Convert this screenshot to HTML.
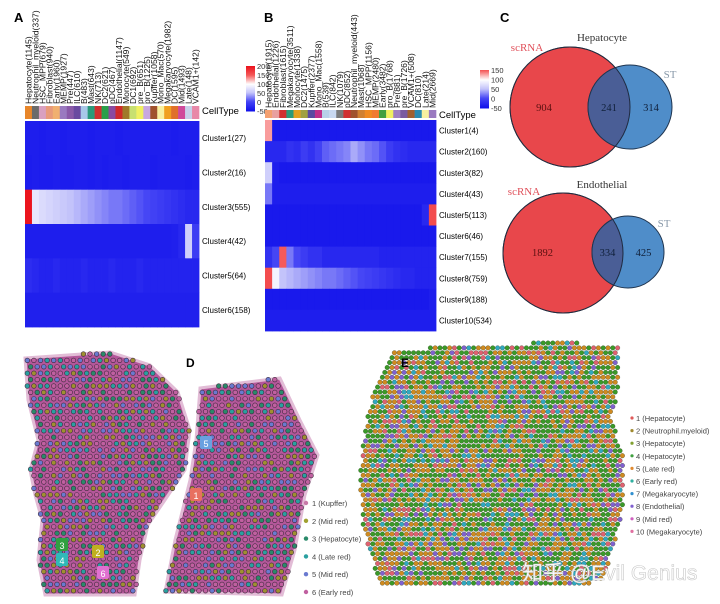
<!DOCTYPE html>
<html><head><meta charset="utf-8"><style>
body{margin:0;background:#fff;width:720px;height:599px;overflow:hidden;font-family:"Liberation Sans",Arial,sans-serif}
svg text{font-family:"Liberation Sans",Arial,sans-serif}
</style></head><body>
<svg id="fig" width="720" height="599" viewBox="0 0 720 599" xmlns="http://www.w3.org/2000/svg">
<rect width="720" height="599" fill="#fff"/>
<g id="pA"></g>
<g id="pB"></g>
<g id="pC"></g>
<g id="pD"></g>
<g id="pE"></g>
</svg>
<script>
const NS="http://www.w3.org/2000/svg";
// ---- data ----
const aCols=["Hepatocyte(1145)","Neutrophil_myeloid(337)","HSC_MPP(679)","Fibroblast(940)","Early(1960)","MEMP(1927)","Pre(447)","ILC(610)","B(483)","Mast(643)","NK(713)","DC2(621)","pDC(467)","Endothelial(1147)","Monocyte(549)","DC1(692)","pre_B(651)","pro_B(1225)","Kupffer(1058)","Mono_Mac(570)","Megakaryocyte(1982)","DC(1595)","Mid(1493)","Late(148)","VCAM1+(142)"];
const aRows=["Cluster1(27)","Cluster2(16)","Cluster3(555)","Cluster4(42)","Cluster5(64)","Cluster6(158)"];
const aVals=[
[-40,-40,-42,-40,-40,-42,-40,-40,-40,-42,-40,-40,-40,-42,-40,-40,-40,-40,-40,-40,-40,-42,-40,-40,-40],
[-42,-40,-42,-42,-40,-42,-42,-40,-40,-42,-40,-42,-40,-40,-42,-40,-40,-40,-42,-40,-40,-40,-40,-42,-40],
[200,80,70,65,60,55,50,45,40,35,30,25,20,20,15,10,5,0,-5,-10,-15,-20,-25,-30,-30],
[-40,-40,-40,-40,-40,-40,-40,-40,-40,-40,-40,-40,-40,-40,-40,-40,-40,-40,-40,-40,-40,-38,-30,60,-10],
[-25,-30,-35,-35,-30,-35,-35,-35,-30,-35,-35,-35,-30,-35,-35,-35,-30,-35,-35,-35,-35,-35,-35,-35,-35],
[-38,-38,-38,-38,-38,-38,-38,-38,-38,-38,-38,-38,-38,-38,-38,-38,-38,-38,-38,-38,-38,-38,-38,-38,-38]];
const aColors=["#e8862a","#6b6b6b","#d9a0c0","#e89a7a","#f0b070","#9a7ac0","#8a5aa8","#6a4aa0","#a8c8e8","#2a9a7a","#d03030","#2aa04a","#8a4aa0","#d02a2a","#a07a2a","#c8e070","#f0f060","#c8a8e0","#a0522d","#f8f0a0","#f0a020","#e0702a","#d04a9a","#c8d0e8","#e888a8"];
const bCols=["Hepatocyte(1915)","Endothelial(1226)","Fibroblast(1615)","Megakaryocyte(3511)","Monocyte(1338)","DC2(1475)","Kupffer(2377)","Mono_Mac(1558)","B(539)","ILC(842)","NK(1079)","pDC(852)","Neutrophil_myeloid(443)","Mast(1068)","HSC_MPP(1156)","MEMP(2480)","Early(3482)","pro_B(1768)","Pre(881)","pre_B(1726)","VCAM1+(508)","DC(810)","Late(214)","Mid(2669)"];
const bRows=["Cluster1(4)","Cluster2(160)","Cluster3(82)","Cluster4(43)","Cluster5(113)","Cluster6(46)","Cluster7(155)","Cluster8(759)","Cluster9(188)","Cluster10(534)"];
const bVals=[
[130,-45,-45,-45,-45,-45,-45,-45,-45,-45,-45,-45,-45,-45,-45,-45,-45,-45,-45,-45,-45,-45,-45,-45],
[-30,-30,-30,-20,-25,-10,-20,-5,10,15,20,25,40,30,20,15,5,-10,-20,-25,-30,-30,-30,-30],
[60,-40,-45,-45,-45,-45,-45,-45,-45,-45,-45,-45,-45,-45,-45,-45,-45,-45,-45,-45,-45,-45,-45,-45],
[20,-40,-40,-40,-40,-40,-40,-40,-40,-40,-40,-40,-40,-40,-40,-40,-40,-40,-40,-40,-40,-40,-40,-40],
[-45,-45,-45,-45,-45,-45,-45,-45,-45,-45,-45,-45,-45,-45,-45,-45,-45,-45,-45,-45,-45,-45,-30,160],
[-45,-45,-45,-45,-45,-45,-45,-45,-45,-45,-45,-45,-45,-45,-45,-45,-45,-45,-45,-45,-45,-45,-45,-45],
[-20,0,150,20,0,-10,-20,-20,-30,-30,-30,-30,-30,-30,-30,-30,-35,-35,-35,-35,-35,-35,-35,-35],
[160,90,50,45,40,35,30,25,20,20,15,10,5,0,-5,-10,-15,-20,-25,-30,-30,-35,-35,-35],
[-45,-45,-45,-45,-45,-45,-45,-45,-45,-45,-45,-45,-45,-45,-45,-45,-45,-45,-45,-45,-45,-45,-45,-40],
[-40,-40,-40,-40,-40,-40,-40,-40,-40,-40,-40,-40,-40,-40,-40,-40,-40,-40,-40,-40,-40,-40,-40,-40]];
const bColors=["#f4a070","#e8a0a0","#d03030","#2a9a7a","#e0a020","#a0a040","#5a4aa0","#c0308a","#b8d0e8","#c8d8f0","#7a7a7a","#d03030","#a0522d","#d08030","#f08a20","#f07a30","#40a040","#f0f060","#a080c0","#7a5aa0","#a06030","#2a8ab0","#f8f0a0","#9a7ac0"];
const hepVenn=[904,241,314];
const endVenn=[1892,334,425];
const dLegend=["1 (Kupffer)","2 (Mid red)","3 (Hepatocyte)","4 (Late red)","5 (Mid red)","6 (Early red)"];
const dLegColors=["#c87aa8","#a0a030","#2a8a6a","#2aa0a0","#6a7ad0","#c060a0"];
const eLegend=["1 (Hepatocyte)","2 (Neutrophil.myeloid)","3 (Hepatocyte)","4 (Hepatocyte)","5 (Late red)","6 (Early red)","7 (Megakaryocyte)","8 (Endothelial)","9 (Mid red)","10 (Megakaryocyte)"];
const eLegColors=["#e05a5a","#a08a30","#80a030","#40a040","#e08a30","#30b0a0","#3090d0","#8060d0","#d060c0","#e070a0"];

function el(tag,attrs,parent,txt){const e=document.createElementNS(NS,tag);for(const k in attrs)e.setAttribute(k,attrs[k]);if(txt!==undefined)e.textContent=txt;parent.appendChild(e);return e;}
function lerp(a,b,t){return Math.round(a+(b-a)*t);}
function heatColor(v){
  const stops=[[-50,[20,20,235]],[0,[70,70,245]],[50,[195,195,250]],[100,[255,255,255]],[150,[245,90,90]],[200,[235,20,30]]];
  v=Math.max(-50,Math.min(200,v));
  for(let i=0;i<stops.length-1;i++){const [v0,c0]=stops[i],[v1,c1]=stops[i+1];if(v<=v1){const t=(v-v0)/(v1-v0);return `rgb(${lerp(c0[0],c1[0],t)},${lerp(c0[1],c1[1],t)},${lerp(c0[2],c1[2],t)})`;}}
}
function heatmap(g,cfg){
  const {cols,rows,vals,colors,x0,x1,y0,y1,bandY,label,lx,legX,legY,lh,legTicks,legMax}=cfg;
  const cw=(x1-x0)/cols.length,rh=(y1-y0)/rows.length;
  const t=el('text',{x:lx,y:22,'font-size':13,'font-weight':'bold'},g,label);
  
  
  cols.forEach((c,i)=>{
    const cx=x0+cw*(i+0.5);
    const tx=el('text',{x:cx+3,y:bandY-2,'font-size':8.6,transform:`rotate(-90 ${cx+3} ${bandY-2})`,fill:'#111'},g,c);
    
    
    const b=el('rect',{x:x0+cw*i,y:bandY,width:cw+0.3,height:y0-bandY-2,fill:colors[i%colors.length]},g);
    
    
  });
  el('text',{x:x1+3,y:bandY+8,'font-size':9.5},g,'CellType');
  rows.forEach((r,j)=>{
    vals[j].forEach((v,i)=>{
      const c=el('rect',{x:x0+cw*i,y:y0+rh*j,width:cw+0.4,height:rh+0.4,fill:heatColor(v)},g);
      
      
    });
    const rl=el('text',{x:x1+3,y:y0+rh*(j+0.5)+3,'font-size':8},g,r);
    
    
  });
  for(let k=0;k<40;k++){const v=legMax-(legMax+50)*k/39;el('rect',{x:legX,y:legY+lh*k/40,width:9,height:lh/40+0.5,fill:heatColor(v)},g);}
  legTicks.forEach(v=>{const yy=legY+lh*(legMax-v)/(legMax+50);const tt=el('text',{x:legX+11,y:yy+3,'font-size':7.5,fill:'#333'},g,v);});
}
heatmap(document.getElementById('pA'),{cols:aCols,rows:aRows,vals:aVals,colors:aColors,x0:25,x1:199,y0:121,y1:327,bandY:106,label:'A',lx:14,legX:246,legY:66,lh:45,legTicks:[200,150,100,50,0,-50],legMax:200});
heatmap(document.getElementById('pB'),{cols:bCols,rows:bRows,vals:bVals,colors:bColors,x0:265,x1:436,y0:120,y1:331,bandY:110,label:'B',lx:264,legX:480,legY:70,lh:38,legTicks:[150,100,50,0,-50],legMax:150});

// Venn
const pC=document.getElementById('pC');
el('text',{x:500,y:22,'font-size':13,'font-weight':'bold'},pC,'C');
function venn(cfg,vals){
  const g=el('g',{},pC);
  
  
  const id='clip'+cfg.name;
  const d=el('defs',{},g);const cp=el('clipPath',{id},d);el('circle',{cx:cfg.rx,cy:cfg.ry,r:cfg.rr},cp);
  const c1=el('circle',{cx:cfg.rx,cy:cfg.ry,r:cfg.rr,fill:'#e8474b',stroke:'#333','stroke-width':1},g);
  
  const c2=el('circle',{cx:cfg.bx,cy:cfg.by,r:cfg.br,fill:'#4f8dc9',stroke:'#1f3550','stroke-width':1},g);
  
  el('circle',{cx:cfg.bx,cy:cfg.by,r:cfg.br,fill:'#4a5e96','clip-path':`url(#${id})`,stroke:'#1f3550','stroke-width':1},g);
  el('circle',{cx:cfg.rx,cy:cfg.ry,r:cfg.rr,fill:'none',stroke:'#1f2a40','stroke-width':1},g);
  const f='font-family:"Liberation Serif",serif';
  el('text',{x:cfg.tx,y:cfg.ty,'font-size':11,'text-anchor':'middle',style:f,fill:'#333'},g,cfg.title);
  el('text',{x:cfg.sx,y:cfg.sy,'font-size':11,'text-anchor':'middle',style:f,fill:'#e0505a'},g,'scRNA');
  el('text',{x:cfg.stx,y:cfg.sty,'font-size':11,'text-anchor':'middle',style:f,fill:'#8a9aaa'},g,'ST');
  const cx0=(cfg.rx-cfg.rr+cfg.bx-cfg.br)/2, cxi=(cfg.bx-cfg.br+cfg.rx+cfg.rr)/2, cx2=(cfg.rx+cfg.rr+cfg.bx+cfg.br)/2;
  [[cx0-5,vals[0],'#5a1010'],[cxi,vals[1],'#10203a'],[cx2,vals[2],'#10203a']].forEach(([x,v,c])=>{
    const t=el('text',{x,y:cfg.by+4,'font-size':10.5,'text-anchor':'middle',style:f,fill:c},g,v);
    
  });
}
venn({name:'hepatocyte',rx:570,ry:107,rr:60,bx:630,by:107,br:42,title:'Hepatocyte',tx:602,ty:41,sx:527,sy:51,stx:670,sty:78},hepVenn);
venn({name:'endothelial',rx:563,ry:253,rr:60,bx:628,by:252,br:36,title:'Endothelial',tx:602,ty:188,sx:524,sy:195,stx:664,sty:227},endVenn);

// deterministic texture hash (visual texture only)
function h(i,j){let x=Math.sin(i*127.1+j*311.7)*43758.5453;return x-Math.floor(x);}
function inPoly(x,y,p){let c=false;for(let i=0,j=p.length-1;i<p.length;j=i++){const [xi,yi]=p[i],[xj,yj]=p[j];if(((yi>y)!=(yj>y))&&(x<(xj-xi)*(y-yi)/(yj-yi)+xi))c=!c;}return c;}

// Panel D
const pD=document.getElementById('pD');
const dL=[[25,358],[110,352],[150,365],[178,392],[190,430],[185,470],[165,500],[148,525],[140,560],[135,595],[45,595],[38,560],[42,520],[35,495],[30,470],[38,440],[28,400]];
const dR=[[200,388],[280,378],[300,420],[318,455],[305,495],[295,550],[282,595],[165,592],[175,540],[190,480],[196,440]];
[dL,dR].forEach(p=>{const pg=el('polygon',{points:p.map(q=>q.join(',')).join(' '),fill:'#b4579a',stroke:'#e2bcd6','stroke-width':3},pD);});
const dPal=["#c060a0","#a09030","#2a8a6a","#2aa0a0","#6a7ad0","#c060a0"];
for(let j=0;j<38;j++)for(let i=0;i<50;i++){
  const x=24+i*6.6+(j%2)*3.3,y=354+j*6.4;
  if(inPoly(x,y,dL)||inPoly(x,y,dR)){const c=dPal[Math.floor(h(i,j)*6)];el('circle',{cx:x,cy:y,r:2.3,fill:c,stroke:'#3a2a3a','stroke-width':0.6},pD);}
}
el('text',{x:186,y:367,'font-size':12,'font-weight':'bold'},pD,'D');
[[62,545,'#30a040','3'],[62,560,'#30b8b8','4'],[98,552,'#c0b020','2'],[103,573,'#e070d0','6'],[206,443,'#6aa0e0','5'],[196,495,'#e87060','1']].forEach(([x,y,c,t])=>{el('rect',{x:x-6,y:y-7,width:12,height:13,rx:2,fill:c},pD);el('text',{x,y:y+4,'font-size':9,'text-anchor':'middle',fill:'#fff'},pD,t);});
dLegend.forEach((t,k)=>{const y=503+k*17.8;const d=el('circle',{cx:306,cy:y,r:2.2,fill:dLegColors[k]},pD);el('text',{x:312,y:y+3,'font-size':7.5,fill:'#444'},pD,t);});

// Panel E
const pE=document.getElementById('pE');
const eP=[[395,350],[470,345],[560,342],[620,345],[620,380],[612,420],[628,470],[620,520],[610,560],[600,582],[520,590],[380,588],[372,560],[362,520],[360,470],[366,420],[375,385]];
const ePal=["#3a9a28","#3a9a28","#d08a20","#d08a20","#3a9a28","#8060d0","#30a8c0","#e06070","#d08a20","#3a9a28"];
for(let j=0;j<50;j++)for(let i=0;i<56;i++){
  const x=356+i*4.8+(j%2)*2.4,y=343+j*4.9;
  if(inPoly(x,y,eP)){const c=ePal[Math.floor(h(i+7,j+3)*10)];el('circle',{cx:x,cy:y,r:2.3,fill:c,stroke:'#2a3a20','stroke-width':0.3},pE);}
}
el('text',{x:401,y:367,'font-size':12,'font-weight':'bold'},pE,'E');
eLegend.forEach((t,k)=>{const y=418+k*12.6;const d=el('circle',{cx:632,cy:y,r:1.6,fill:eLegColors[k]},pE);el('text',{x:636,y:y+3,'font-size':7.5,fill:'#444'},pE,t);});
const wm=el('text',{x:522,y:580,'font-size':21,fill:'#fff',stroke:'#c8c8c8','stroke-width':0.6,style:'font-family:"Liberation Sans","Noto Sans CJK SC",sans-serif'},pE,'知乎 @Evil Genius');


</script>
</body></html>
